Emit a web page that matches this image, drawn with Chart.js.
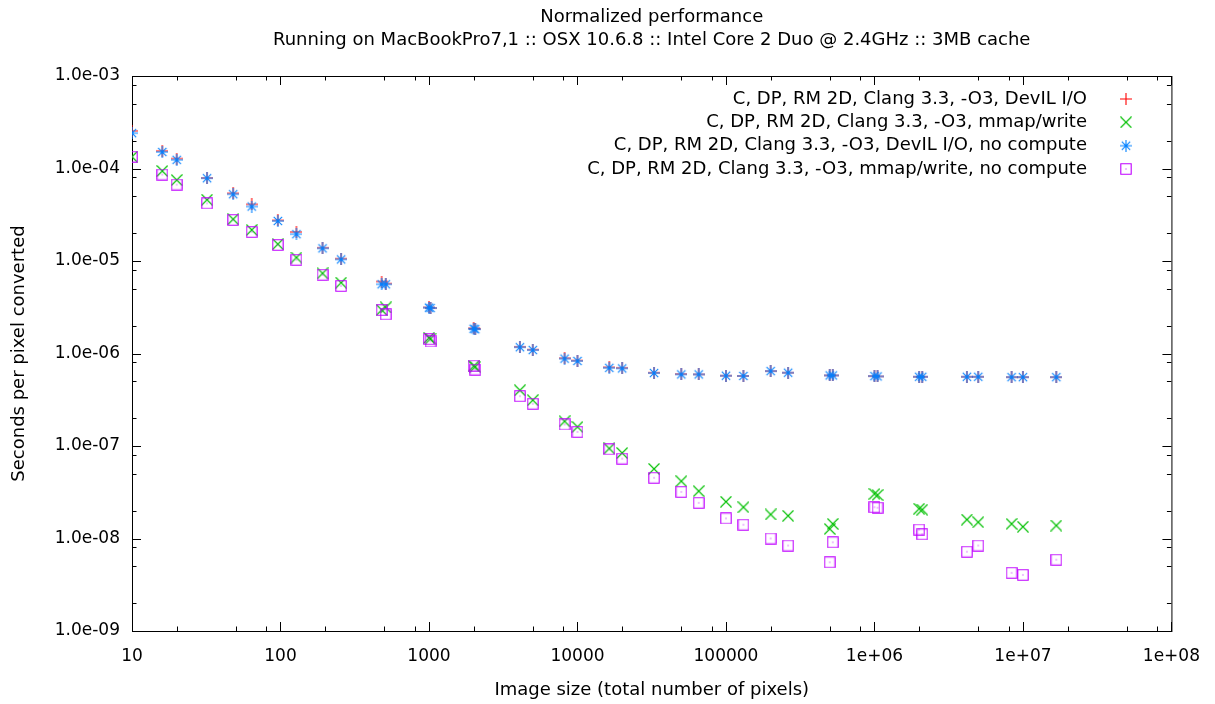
<!DOCTYPE html>
<html>
<head>
<meta charset="utf-8">
<script src="https://cdn.jsdelivr.net/npm/chart.js@4/dist/chart.umd.min.js"></script>
<style>
  html, body { margin: 0; padding: 0; background: #fff; }
  #wrap { width: 1215px; height: 704px; }
</style>
</head>
<body>
<div id="wrap"><canvas id="chart" width="1215" height="704"></canvas></div>
<script>
// image sizes (total number of pixels)
const imageSizes = [10, 16, 20, 32, 48, 64, 96, 128, 192, 256, 480, 512, 1000, 1024, 2000, 2048,
  4096, 5000, 8192, 10000, 16384, 20000, 32768, 50000, 65536, 100000, 131072, 200000, 262144,
  500000, 524288, 1000000, 1048576, 2000000, 2097152, 4194304, 5000000, 8388608, 10000000, 16777216];

// seconds per pixel, one value per image size
const devilIO = [2.55e-4, 1.55e-4, 1.28e-4, 7.9e-5, 5.4e-5, 4.1e-5, 2.75e-5, 2.06e-5, 1.39e-5, 1.06e-5,
  6.0e-6, 5.7e-6, 3.15e-6, 3.1e-6, 1.87e-6, 1.85e-6, 1.18e-6, 1.1e-6, 8.9e-7, 8.4e-7,
  7.1e-7, 7.0e-7, 6.2e-7, 6.0e-7, 5.95e-7, 5.75e-7, 5.72e-7, 6.45e-7, 6.2e-7, 5.8e-7,
  5.8e-7, 5.7e-7, 5.65e-7, 5.6e-7, 5.6e-7, 5.6e-7, 5.6e-7, 5.55e-7, 5.55e-7, 5.55e-7];
const mmapWrite = [1.34e-4, 9.4e-5, 7.5e-5, 4.6e-5, 2.83e-5, 2.17e-5, 1.52e-5, 1.09e-5, 7.36e-6, 5.83e-6,
  2.96e-6, 3.15e-6, 1.48e-6, 1.45e-6, 7.3e-7, 7.2e-7, 4.0e-7, 3.13e-7, 1.85e-7, 1.61e-7,
  9.4e-8, 8.4e-8, 5.66e-8, 4.16e-8, 3.25e-8, 2.5e-8, 2.18e-8, 1.82e-8, 1.76e-8, 1.27e-8,
  1.44e-8, 3.04e-8, 2.95e-8, 2.1e-8, 2.05e-8, 1.6e-8, 1.5e-8, 1.44e-8, 1.34e-8, 1.38e-8];
const devilNoCompute = [2.41e-4, 1.51e-4, 1.24e-4, 7.85e-5, 5.27e-5, 3.88e-5, 2.71e-5, 1.95e-5, 1.37e-5, 1.04e-5,
  5.6e-6, 5.6e-6, 3.13e-6, 3.1e-6, 1.85e-6, 1.83e-6, 1.17e-6, 1.09e-6, 8.8e-7, 8.3e-7,
  7.0e-7, 6.9e-7, 6.15e-7, 5.94e-7, 5.94e-7, 5.75e-7, 5.72e-7, 6.45e-7, 6.2e-7, 5.8e-7,
  5.8e-7, 5.7e-7, 5.65e-7, 5.6e-7, 5.6e-7, 5.6e-7, 5.6e-7, 5.55e-7, 5.55e-7, 5.55e-7];
const mmapNoCompute = [1.34e-4, 8.6e-5, 6.7e-5, 4.2e-5, 2.78e-5, 2.06e-5, 1.49e-5, 1.03e-5, 7.1e-6, 5.37e-6,
  2.95e-6, 2.65e-6, 1.43e-6, 1.35e-6, 7.4e-7, 6.7e-7, 3.46e-7, 2.86e-7, 1.71e-7, 1.42e-7,
  9.2e-8, 7.3e-8, 4.53e-8, 3.19e-8, 2.43e-8, 1.65e-8, 1.41e-8, 1.0e-8, 8.4e-9, 5.53e-9,
  9.1e-9, 2.18e-8, 2.15e-8, 1.25e-8, 1.11e-8, 7.2e-9, 8.4e-9, 4.25e-9, 4.04e-9, 5.9e-9];

const seriesNames = [
  'C, DP, RM 2D, Clang 3.3, -O3, DevIL I/O',
  'C, DP, RM 2D, Clang 3.3, -O3, mmap/write',
  'C, DP, RM 2D, Clang 3.3, -O3, DevIL I/O, no compute',
  'C, DP, RM 2D, Clang 3.3, -O3, mmap/write, no compute'
];
const seriesColors = ['#ff0000', '#00c000', '#0080ff', '#c000ff'];
const seriesMarkers = ['plus', 'cross', 'star', 'square'];

const xTickValues = [1e1, 1e2, 1e3, 1e4, 1e5, 1e6, 1e7, 1e8];
const xTickLabels = ['10', '100', '1000', '10000', '100000', '1e+06', '1e+07', '1e+08'];
const yTickValues = [1e-9, 1e-8, 1e-7, 1e-6, 1e-5, 1e-4, 1e-3];
const yTickLabels = ['1.0e-09', '1.0e-08', '1.0e-07', '1.0e-06', '1.0e-05', '1.0e-04', '1.0e-03'];
const minorSteps = [2, 5, 8];

const titleLines = ['Normalized performance',
  'Running on MacBookPro7,1 :: OSX 10.6.8 :: Intel Core 2 Duo @ 2.4GHz :: 3MB cache'];

const FONT = 'DejaVu Sans';
Chart.defaults.font.family = FONT;
Chart.defaults.color = '#000';

// gnuplot-like point symbols drawn once into small canvases
function makeMarker(kind, color) {
  const c = document.createElement('canvas');
  const s = 12;
  c.width = s; c.height = s;
  const g = c.getContext('2d');
  g.strokeStyle = color;
  g.fillStyle = color;
  g.lineWidth = 1.1;
  const m = s / 2;
  g.beginPath();
  if (kind === 'plus' || kind === 'star') {
    g.moveTo(0, m); g.lineTo(s, m);
    g.moveTo(m, 0); g.lineTo(m, s);
  }
  if (kind === 'cross' || kind === 'star') {
    const d = kind === 'star' ? 4.2 : 5.5;
    g.moveTo(m - d, m - d); g.lineTo(m + d, m + d);
    g.moveTo(m - d, m + d); g.lineTo(m + d, m - d);
  }
  if (kind === 'square') {
    g.rect(0.8, 0.8, s - 1.6, s - 1.6);
  }
  g.stroke();
  if (kind === 'square') g.fillRect(m - 0.5, m - 0.5, 1, 1);
  if (kind === 'star') g.fillRect(m - 1, m - 1, 2, 2);
  return c;
}
const markers = seriesMarkers.map((k, i) => makeMarker(k, seriesColors[i]));

const seriesValues = [devilIO, mmapWrite, devilNoCompute, mmapNoCompute];
const datasets = seriesValues.map((vals, i) => ({
  label: seriesNames[i],
  data: imageSizes.map((sz, j) => ({ x: sz, y: vals[j] })),
  pointStyle: markers[i],
  pointRadius: 6,
  borderColor: seriesColors[i],
  backgroundColor: seriesColors[i],
  showLine: false,
  order: 3 - i   // later series painted on top, like gnuplot
}));

// frame, ticks, title and key in gnuplot style
const gnuplotFrame = {
  id: 'gnuplotFrame',
  beforeDatasetsDraw(chart) {
    const { ctx, chartArea: a, scales } = chart;
    ctx.save();
    ctx.strokeStyle = '#000';
    ctx.lineWidth = 1;
    ctx.beginPath();
    const tick = (x1, y1, x2, y2) => { ctx.moveTo(x1, y1); ctx.lineTo(x2, y2); };
    xTickValues.forEach((v, i) => {
      const steps = i < xTickValues.length - 1 ? [1].concat(minorSteps) : [1];
      steps.forEach(st => {
        const px = Math.round(scales.x.getPixelForValue(v * st)) + 0.5;
        const len = st === 1 ? 9 : 4.5;
        tick(px, a.bottom, px, a.bottom - len);
        tick(px, a.top, px, a.top + len);
      });
    });
    yTickValues.forEach((v, i) => {
      const steps = i < yTickValues.length - 1 ? [1].concat(minorSteps) : [1];
      steps.forEach(st => {
        const py = Math.round(scales.y.getPixelForValue(v * st)) + 0.5;
        const len = st === 1 ? 9 : 4.5;
        tick(a.left, py, a.left + len, py);
        tick(a.right, py, a.right - len, py);
      });
    });
    ctx.stroke();
    ctx.strokeRect(a.left + 0.5, a.top + 0.5, a.right - a.left, a.bottom - a.top);
    ctx.restore();
  },
  afterDraw(chart) {
    const { ctx, chartArea: a } = chart;
    ctx.save();
    ctx.fillStyle = '#000';
    ctx.font = '18px "' + FONT + '"';
    ctx.textAlign = 'center';
    ctx.textBaseline = 'middle';
    const cx = (a.left + a.right) / 2;
    ctx.fillText(titleLines[0], cx, 17);
    ctx.fillText(titleLines[1], cx, 40);
    // key
    ctx.textAlign = 'right';
    const rows = [99, 122.3, 145.7, 169];
    seriesNames.forEach((name, i) => {
      ctx.fillText(name, 1087, rows[i]);
      const m = markers[i];
      ctx.drawImage(m, 1126 - m.width / 2, rows[i] - m.height / 2);
    });
    ctx.restore();
  }
};

new Chart(document.getElementById('chart'), {
  type: 'scatter',
  data: { datasets },
  options: {
    responsive: false,
    devicePixelRatio: 1,
    animation: false,
    events: [],
    layout: { padding: { left: 0, top: 76, right: 40, bottom: 0 } },
    plugins: {
      legend: { display: false },
      title: { display: false },
      tooltip: { enabled: false }
    },
    scales: {
      x: {
        type: 'logarithmic',
        position: 'bottom',
        min: 10,
        max: 1e8,
        grid: { display: false, drawTicks: false },
        border: { display: false },
        ticks: {
          autoSkip: false,
          maxRotation: 0,
          padding: 15,
          font: { size: 17 },
          callback: (v, i) => xTickLabels[i]
        },
        afterBuildTicks: s => { s.ticks = xTickValues.map(v => ({ value: v })); },
        afterFit: s => { s.height = 73; },
        title: {
          display: true,
          text: 'Image size (total number of pixels)',
          font: { size: 18 },
          padding: { top: 0, bottom: 3 }
        }
      },
      y: {
        type: 'logarithmic',
        position: 'left',
        min: 1e-9,
        max: 1e-3,
        grid: { display: false, drawTicks: false },
        border: { display: false },
        ticks: {
          autoSkip: false,
          padding: 12,
          font: { size: 17 },
          callback: (v, i) => yTickLabels[i]
        },
        afterBuildTicks: s => { s.ticks = yTickValues.map(v => ({ value: v })); },
        afterFit: s => { s.width = 132; },
        title: {
          display: true,
          text: 'Seconds per pixel converted',
          font: { size: 18 },
          padding: { top: 9, bottom: 0 }
        }
      }
    }
  },
  plugins: [gnuplotFrame]
});
</script>
</body>
</html>
